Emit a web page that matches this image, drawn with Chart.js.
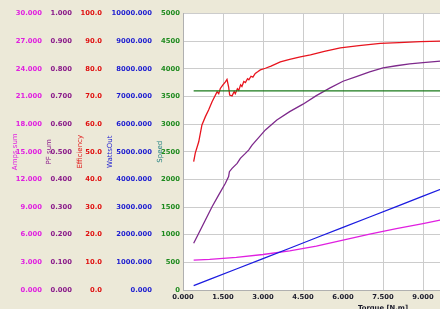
<!DOCTYPE html>
<html lang="en">
<head>
    <meta charset="UTF-8">
    <title>Motor curves</title>
    <script src="https://cdn.jsdelivr.net/npm/chart.js@4.4.0/dist/chart.umd.min.js"></script>
    <style>
        body { margin: 0; background: #ece9d8; overflow: hidden; }
        #wrap { width: 440px; height: 309px; overflow: hidden; }
    </style>
</head>
<body>
    <div id="wrap">
        <canvas id="myChart" width="600" height="314"></canvas>
    </div>
<script>
    // torque [N.m] for the simple series
    const torque = [0.4, 1.0, 2.0, 3.0, 4.0, 5.0, 6.0, 7.0, 8.0, 9.0, 10.0]
    const ampsSum = [3.25, 3.32, 3.55, 3.85, 4.25, 4.75, 5.4, 6.05, 6.65, 7.2, 7.8]
    const wattsOut = [160, 385, 760, 1135, 1510, 1890, 2265, 2640, 3015, 3395, 3770]
    const speed = [3600, 3600, 3600, 3600, 3600, 3600, 3600, 3600, 3600, 3600, 3600]

    // efficiency is noisy at low torque, so more points
    const effTorque = [0.40, 0.46, 0.59, 0.71, 0.84, 0.96, 1.09, 1.28, 1.34, 1.40, 1.49, 1.59, 1.65, 1.71, 1.75, 1.84,
        1.92, 1.96, 2.04, 2.09, 2.16, 2.21, 2.28, 2.34, 2.42, 2.47, 2.55, 2.62, 2.71, 2.80, 2.90, 3.09, 3.3, 3.65,
        4.0, 4.4, 4.78, 5.3, 5.9, 6.6, 7.4, 8.1, 8.9, 9.65, 10.0]
    const efficiency = [46.4, 49.5, 53.6, 59.7, 62.7, 65.1, 68.1, 71.7, 71.0, 72.9, 74.1, 75.3, 76.2, 73.5, 70.5, 70.2,
        71.8, 71.0, 72.8, 72.2, 74.2, 73.6, 75.4, 75.0, 76.4, 76.0, 77.3, 77.0, 78.3, 78.9, 79.6, 80.2, 81.0, 82.5,
        83.4, 84.3, 85.0, 86.3, 87.6, 88.4, 89.2, 89.5, 89.8, 90.0, 90.1]

    const pfTorque = [0.40, 0.59, 0.84, 1.09, 1.34, 1.59, 1.71, 1.74, 1.84, 2.03, 2.15, 2.34, 2.46, 2.59, 3.09, 3.52,
        4.0, 4.5, 5.0, 5.5, 6.0, 6.5, 7.0, 7.5, 8.0, 8.5, 9.0, 9.65, 10.0]
    const pfSum = [0.169, 0.205, 0.253, 0.301, 0.344, 0.386, 0.410, 0.428, 0.440, 0.458, 0.476, 0.494, 0.506, 0.524, 0.579, 0.615,
        0.645, 0.672, 0.703, 0.730, 0.755, 0.772, 0.789, 0.803, 0.811, 0.818, 0.822, 0.828, 0.831]

    function pts(xs, ys) { return xs.map((x, i) => ({ x: x, y: ys[i] })) }

    const tickFont = { family: 'DejaVu Sans', size: 6.8, weight: 'bold' }
    const titleFont = { family: 'DejaVu Sans', size: 7 }

    // one left axis, fixed width so the columns line up like the original
    function yAxis(max, step, digits, color, title, titleColor, width, titlePad) {
        return {
            position: 'left',
            min: 0, max: max,
            grid: { display: false, drawTicks: false },
            border: { display: false },
            ticks: {
                stepSize: step, color: color, font: tickFont, padding: 3,
                callback: v => v.toFixed(digits)
            },
            title: { display: true, text: title, color: titleColor, font: titleFont, padding: { top: titlePad, bottom: 0 } },
            afterFit: s => { s.width = width }
        }
    }

    const plotBg = {
        id: 'plotBg',
        beforeDraw(chart) {
            const a = chart.chartArea, c = chart.ctx
            c.save()
            c.fillStyle = '#ffffff'
            c.fillRect(a.left, a.top, a.right - a.left, a.bottom - a.top)
            c.restore()
        }
    }

    const line = (label, data, color, axis) => ({
        label, data, yAxisID: axis, borderColor: color, borderWidth: 1.3,
        pointRadius: 0, tension: 0, fill: false
    })

    const speedAxis = yAxis(5000, 500, 0, '#1e8a1e', 'Speed', '#208080', 28, 0.8)
    speedAxis.grid = { display: true, drawTicks: false, color: '#cccccc' }
    speedAxis.border = { display: true, color: '#b0b0b0' }

    new Chart('myChart', {
        type: 'line',
        data: {
            datasets: [
                line('Speed', pts(torque, speed), '#1a7a1a', 'ySpeed'),
                line('Efficiency', pts(effTorque, efficiency), '#e8141e', 'yEff'),
                line('PF sum', pts(pfTorque, pfSum), '#7e2a8c', 'yPF'),
                line('WattsOut', pts(torque, wattsOut), '#1c1ce0', 'yWatts'),
                line('Amps sum', pts(torque, ampsSum), '#e020e0', 'yAmps')
            ]
        },
        options: {
            responsive: false,
            animation: false,
            layout: { padding: { top: 13.5, right: 17, left: 0, bottom: 0 } },
            plugins: { legend: { display: false }, tooltip: { enabled: false } },
            scales: {
                x: {
                    type: 'linear', min: 0, max: 15,
                    grid: { color: '#cccccc', drawTicks: false },
                    border: { color: '#b0b0b0' },
                    ticks: { stepSize: 1.5, includeBounds: false, color: '#1a1a2a', font: tickFont, padding: 3.5, maxRotation: 0,
                        callback: v => v.toFixed(3) },
                    title: { display: true, text: 'Torque [N.m]', color: '#1a1a2a', font: tickFont, padding: { top: 0, bottom: 1.5 } },
                    afterFit: s => { s.height = 24 }
                },
                ySpeed: speedAxis,
                yWatts: yAxis(10000, 1000, 3, '#1c1cd0', 'WattsOut', '#1c1cd0', 50, 0.8),
                yEff: yAxis(100, 10, 1, '#e01010', 'Efficiency', '#e01010', 30, 0.8),
                yPF: yAxis(1, 0.1, 3, '#8a1a8a', 'PF sum', '#8a1a8a', 30, 0.3),
                yAmps: yAxis(30, 3, 3, '#e020e0', 'Amps sum', '#e020e0', 45, 10.8)
            }
        },
        plugins: [plotBg]
    });
</script>
</body>
</html>
